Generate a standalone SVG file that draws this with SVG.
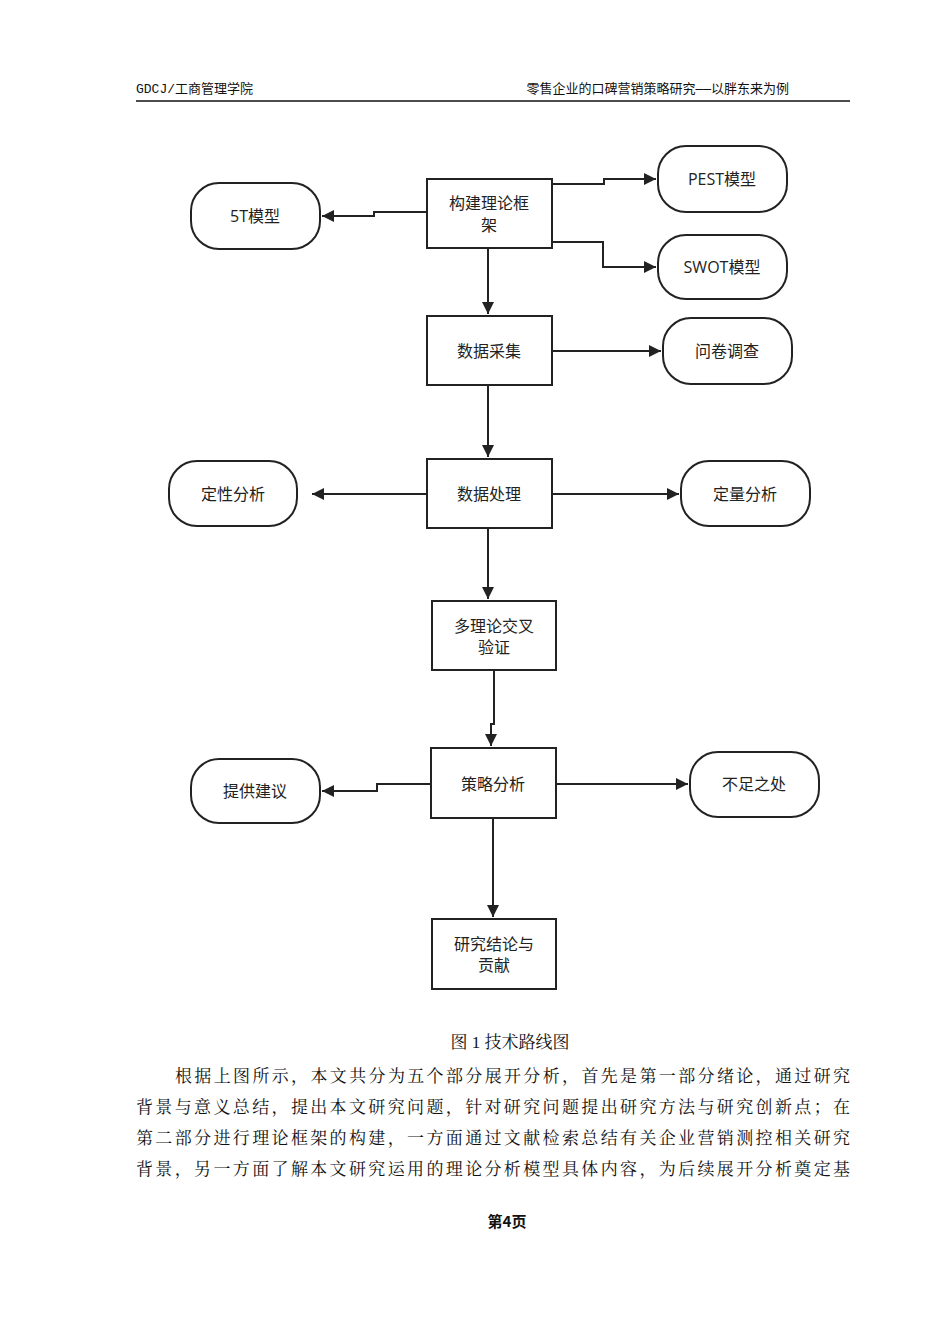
<svg xmlns="http://www.w3.org/2000/svg" width="950" height="1344" viewBox="0 0 950 1344">
<style>
.n{fill:#fff;stroke:#222;stroke-width:2}
.t{font-family:"Open Sans","Noto Sans CJK SC",sans-serif;font-size:16px;fill:#222;text-anchor:middle}
.c{fill:none;stroke:#222;stroke-width:2}
.h{font-family:"Liberation Mono","Noto Sans CJK SC",monospace;font-size:13px;fill:#111}
.p{font-family:"Liberation Serif","Noto Serif CJK SC","Noto Sans CJK SC",serif;font-size:17px;fill:#111}
</style>
<defs><marker id="a" viewBox="0 0 10 10" refX="10" refY="5" markerWidth="6" markerHeight="6" orient="auto"><path d="M0,0L10,5L0,10z" fill="#222"/></marker></defs>
<rect width="950" height="1344" fill="#fff"/>
<text class="h" x="136" y="93">GDCJ/工商管理学院</text>
<text class="h" x="789" y="93" text-anchor="end" font-family="Noto Sans CJK SC,sans-serif">零售企业的口碑营销策略研究——以胖东来为例</text>
<line x1="136" y1="101" x2="850" y2="101" stroke="#111" stroke-width="1.5"/>
<g id="n1"><rect class="n" x="427" y="179" width="125" height="69"/><text class="t" x="489" y="209">构建理论框</text><text class="t" x="489" y="231">架</text></g>
<g id="n2"><rect class="n" x="658" y="146" width="129" height="66" rx="28"/><text class="t" x="722" y="185">PEST模型</text></g>
<g id="n3"><rect class="n" x="191" y="183" width="129" height="66" rx="28"/><text class="t" x="255" y="222">5T模型</text></g>
<g id="n4"><rect class="n" x="658" y="235" width="129" height="64" rx="28"/><text class="t" x="722" y="273">SWOT模型</text></g>
<g id="n5"><rect class="n" x="427" y="316" width="125" height="69"/><text class="t" x="489" y="357">数据采集</text></g>
<g id="n6"><rect class="n" x="663" y="318" width="129" height="66" rx="28"/><text class="t" x="727" y="357">问卷调查</text></g>
<g id="n7"><rect class="n" x="427" y="459" width="125" height="69"/><text class="t" x="489" y="500">数据处理</text></g>
<g id="n8"><rect class="n" x="169" y="461" width="128" height="65" rx="28"/><text class="t" x="233" y="500">定性分析</text></g>
<g id="n9"><rect class="n" x="681" y="461" width="129" height="65" rx="28"/><text class="t" x="745" y="500">定量分析</text></g>
<g id="n10"><rect class="n" x="432" y="601" width="124" height="69"/><text class="t" x="494" y="632">多理论交叉</text><text class="t" x="494" y="653">验证</text></g>
<g id="n11"><rect class="n" x="431" y="748" width="125" height="70"/><text class="t" x="493" y="790">策略分析</text></g>
<g id="n12"><rect class="n" x="191" y="759" width="129" height="64" rx="28"/><text class="t" x="255" y="797">提供建议</text></g>
<g id="n13"><rect class="n" x="690" y="752" width="129" height="65" rx="28"/><text class="t" x="754" y="790">不足之处</text></g>
<g id="n14"><rect class="n" x="432" y="919" width="124" height="70"/><text class="t" x="494" y="950">研究结论与</text><text class="t" x="494" y="971">贡献</text></g>
<g id="connectors">
<path class="c" marker-end="url(#a)" d="M552,184H604V179H656"/>
<path class="c" marker-end="url(#a)" d="M427,212H374V216H322"/>
<path class="c" marker-end="url(#a)" d="M552,242H603V267H656"/>
<path class="c" marker-end="url(#a)" d="M488,248V314"/>
<path class="c" marker-end="url(#a)" d="M552,351H661"/>
<path class="c" marker-end="url(#a)" d="M488,385V457"/>
<path class="c" marker-end="url(#a)" d="M427,494H312"/>
<path class="c" marker-end="url(#a)" d="M552,494H679"/>
<path class="c" marker-end="url(#a)" d="M488,528V599"/>
<path class="c" marker-end="url(#a)" d="M494,670V724H491V746"/>
<path class="c" marker-end="url(#a)" d="M431,784H377V791H322"/>
<path class="c" marker-end="url(#a)" d="M556,784H688"/>
<path class="c" marker-end="url(#a)" d="M493,818V917"/>
</g>
<text class="p" x="510" y="1048" text-anchor="middle" font-size="14">图 1 技术路线图</text>
<text class="p" x="175" y="1082" textLength="675" lengthAdjust="spacing">根据上图所示，本文共分为五个部分展开分析，首先是第一部分绪论，通过研究</text>
<text class="p" x="136" y="1113" textLength="714" lengthAdjust="spacing">背景与意义总结，提出本文研究问题，针对研究问题提出研究方法与研究创新点；在</text>
<text class="p" x="136" y="1144" textLength="714" lengthAdjust="spacing">第二部分进行理论框架的构建，一方面通过文献检索总结有关企业营销测控相关研究</text>
<text class="p" x="136" y="1175" textLength="714" lengthAdjust="spacing">背景，另一方面了解本文研究运用的理论分析模型具体内容，为后续展开分析奠定基</text>
<text x="507" y="1227" text-anchor="middle" font-family="Noto Sans CJK SC,sans-serif" font-weight="bold" font-size="15" fill="#111">第4页</text>
</svg>
